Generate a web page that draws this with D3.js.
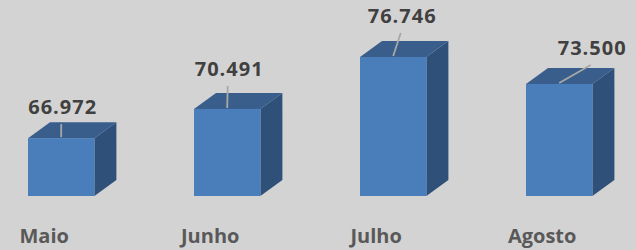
<!DOCTYPE html>
<html>
<head>
<meta charset="utf-8">
<script src="https://cdn.jsdelivr.net/npm/d3@7"></script>
<style>
  html, body { margin: 0; padding: 0; background: #d4d3d3; }
  svg { display: block; }
</style>
</head>
<body>
<div id="chart_div"></div>
<script>
var months = ['Maio', 'Junho', 'Julho', 'Agosto'];
var values = [66.972, 70.491, 76.746, 73.500];
var valueLabels = ['66.972', '70.491', '76.746', '73.500'];

// label placement (dragged by hand in the original), relative to top of the bar
var labelOffsets = [[1.5, -24], [2, -33], [9, -34], [33, -29]];

var width = 636, height = 250;
var depthX = 22, depthY = 16;

var svg = d3.select('#chart_div').append('svg')
  .attr('width', width)
  .attr('height', height);

svg.append('rect')
  .attr('width', width)
  .attr('height', height)
  .style('fill', '#d4d3d3');

var xScale = d3.scaleBand().domain(months)
  .range([-21.8, 642.2]).paddingInner(0.6).paddingOuter(0.3);
var yScale = d3.scaleLinear().domain([60, 80]).range([196, 30]);

var bars = svg.selectAll('g.bar')
  .data(months)
  .enter().append('g')
  .attr('class', 'bar');

// side face
bars.append('path')
  .style('fill', '#2f5078')
  .attr('d', function(d, i) {
    var x1 = xScale(d) + xScale.bandwidth(), y0 = yScale(values[i]), y1 = yScale(60);
    return 'M' + x1 + ',' + y0 + 'L' + (x1 + depthX) + ',' + (y0 - depthY) +
      'L' + (x1 + depthX) + ',' + (y1 - depthY) + 'L' + x1 + ',' + y1 + 'Z';
  });

// top face
bars.append('path')
  .style('fill', '#3a5e8c')
  .attr('d', function(d, i) {
    var x0 = xScale(d), x1 = x0 + xScale.bandwidth(), y0 = yScale(values[i]);
    return 'M' + x0 + ',' + y0 + 'L' + (x0 + depthX) + ',' + (y0 - depthY) +
      'L' + (x1 + depthX) + ',' + (y0 - depthY) + 'L' + x1 + ',' + y0 + 'Z';
  });

// front face
bars.append('rect')
  .style('fill', '#4a7ebb')
  .attr('x', function(d) { return xScale(d); })
  .attr('width', xScale.bandwidth())
  .attr('y', function(d, i) { return yScale(values[i]); })
  .attr('height', function(d, i) { return yScale(60) - yScale(values[i]); });

// leader lines
bars.append('line')
  .style('stroke', '#a8a8a8')
  .style('stroke-width', '1.8px')
  .attr('x1', function(d, i) { return xScale(d) + xScale.bandwidth() / 2 + labelOffsets[i][0] - 1.5; })
  .attr('y1', function(d, i) { return yScale(values[i]) + labelOffsets[i][1] + 10; })
  .attr('x2', function(d) { return xScale(d) + xScale.bandwidth() / 2; })
  .attr('y2', function(d, i) { return yScale(values[i]) - 1; });

// value labels
bars.append('text')
  .attr('text-anchor', 'middle')
  .attr('x', function(d, i) { return xScale(d) + xScale.bandwidth() / 2 + labelOffsets[i][0]; })
  .attr('y', function(d, i) { return yScale(values[i]) + labelOffsets[i][1]; })
  .style('font-family', '"Open Sans", sans-serif')
  .style('font-weight', 'bold')
  .style('font-size', '20px')
  .style('letter-spacing', '1px')
  .style('fill', '#404040')
  .text(function(d, i) { return valueLabels[i]; });

// category labels
svg.append('g')
  .attr('class', 'xaxis')
  .attr('transform', 'translate(-17,243)')
  .call(d3.axisBottom(xScale).tickSize(0).tickPadding(0))
  .call(function(g) { g.select('.domain').remove(); });

svg.selectAll('.xaxis text')
  .attr('dy', 0)
  .style('font-family', '"Open Sans", sans-serif')
  .style('font-weight', 'bold')
  .style('font-size', '20px')
  .style('fill', '#595959');
</script>
</body>
</html>
